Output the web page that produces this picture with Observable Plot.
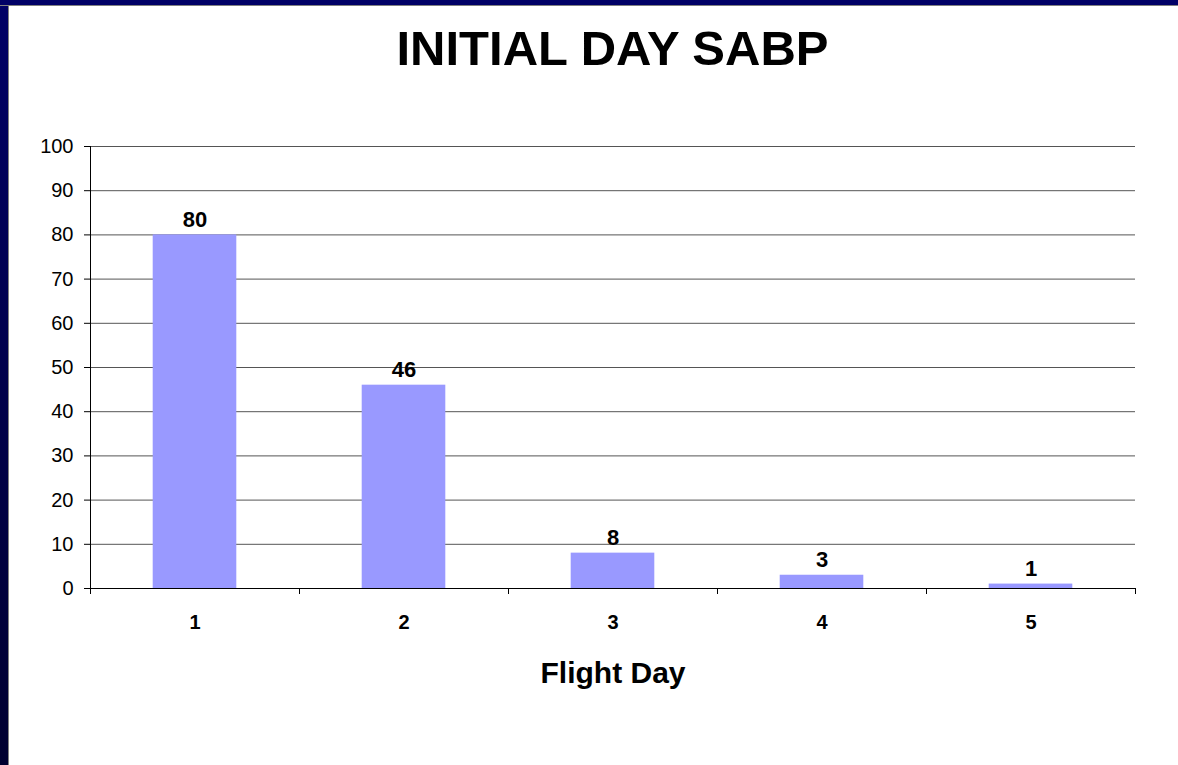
<!DOCTYPE html>
<html>
<head>
<meta charset="utf-8">
<script src="https://cdn.jsdelivr.net/npm/d3@7"></script>
<script src="https://cdn.jsdelivr.net/npm/@observablehq/plot@0.6"></script>
<style>
  html, body { margin: 0; padding: 0; background: #fff; }
  #wrap { position: relative; width: 1178px; height: 765px; overflow: hidden; background: #fff; font-family: "Liberation Sans", Arial, sans-serif; }
  #left { position: absolute; left: 0; top: 0; width: 8px; height: 765px; background: linear-gradient(#000066, #000030); border-right: 1px solid #808080; z-index: 3; }
  #top { position: absolute; left: 0; top: 0; width: 1178px; height: 5px; background: #000066; border-bottom: 1px solid #808080; z-index: 3; }
  #title { position: absolute; left: 90px; width: 1045px; top: 20px; text-align: center; font-weight: bold; font-size: 49px; line-height: 56px; color: #000; }
  #chart { position: absolute; left: 0; top: 100px; }
</style>
</head>
<body>
<div id="wrap">
  <div id="left"></div>
  <div id="top"></div>
  <div id="title">INITIAL DAY SABP</div>
  <div id="chart"></div>
</div>
<script>
const days = [1, 2, 3, 4, 5];
const values = [80, 46, 8, 3, 1];
const yTicks = [0, 10, 20, 30, 40, 50, 60, 70, 80, 90, 100];
const xLabel = "Flight Day";

const data = days.map((d, i) => ({day: d, value: values[i]}));
const bounds = days.map(d => d - 0.5).concat([days[days.length - 1] + 0.5]);
const half = 0.2;

const chart = Plot.plot({
  width: 1178,
  height: 665,
  marginLeft: 90,
  marginRight: 43,
  marginTop: 46,
  marginBottom: 177,
  style: {fontFamily: '"Liberation Sans", Arial, sans-serif', background: "transparent", color: "#000"},
  x: {type: "linear", domain: [bounds[0], bounds[bounds.length - 1]]},
  y: {domain: [0, 100]},
  marks: [
    Plot.ruleY(yTicks.filter(t => t > 0), {stroke: "#555", strokeWidth: 1, strokeOpacity: 1}),
    Plot.rectY(data, {x1: d => d.day - half, x2: d => d.day + half, y1: 0, y2: "value", fill: "#9999FF"}),
    Plot.ruleY([0], {stroke: "#000", strokeWidth: 1}),
    Plot.ruleX([bounds[0]], {stroke: "#000", strokeWidth: 1}),
    Plot.axisY({ticks: yTicks, tickSize: 6, tickPadding: 11, fontSize: 20, label: null, stroke: "#000", strokeOpacity: 1}),
    Plot.axisX({ticks: bounds, tickSize: 6, tickFormat: () => "", label: null, stroke: "#000", strokeOpacity: 1}),
    Plot.axisX({ticks: days, tickSize: 0, tickPadding: 26, fontSize: 20, fontWeight: "bold", label: null, tickFormat: d => String(d)}),
    Plot.text(data, {x: "day", y: "value", text: d => String(d.value), dy: -8, lineAnchor: "bottom", fontSize: 22, fontWeight: "bold", fill: "#000"}),
    Plot.text([xLabel], {frameAnchor: "bottom", dy: 94, lineAnchor: "bottom", fontSize: 30, fontWeight: "bold", fill: "#000"})
  ]
});
document.getElementById("chart").appendChild(chart);
</script>
</body>
</html>
